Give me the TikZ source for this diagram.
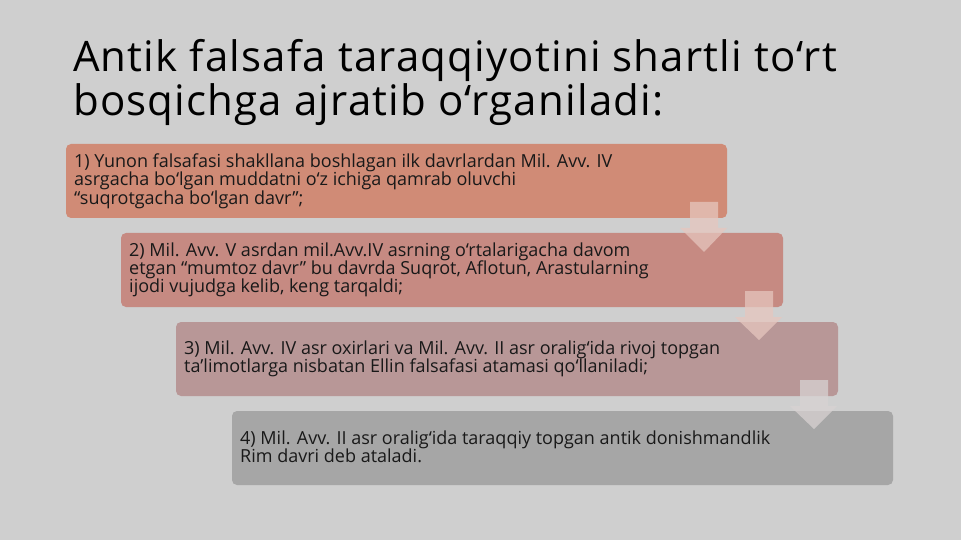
\documentclass[tikz,border=0pt]{standalone}
\usepackage{fontspec}
\setmainfont{Open Sans}
\begin{document}
\begin{tikzpicture}[x=1pt,y=-1pt,
  stagebox/.style={rounded corners=5pt, draw=none},
  stagetext/.style={anchor=west, inner sep=0pt, align=left, font=\fontsize{18}{18.3}\selectfont, text=black!90},
  downarrow/.style={fill=#1, draw=none, fill opacity=0.75}]
\useasboundingbox (0,0) rectangle (961,540);
\fill[gray!38] (0,0) rectangle (961,540);
\definecolor{cA}{HTML}{D08B76}
\definecolor{cB}{HTML}{C68A82}
\definecolor{cC}{HTML}{B89797}
\definecolor{cD}{HTML}{A6A6A6}
\definecolor{cArr}{HTML}{E6C6BE}
\definecolor{cArrG}{HTML}{D8D2D2}
\node[anchor=north west, inner sep=0pt, align=left, font=\fontsize{42}{44}\selectfont\addfontfeature{LetterSpace=2.8}] (title) at (73,39)
  {Antik falsafa taraqqiyotini shartli to‘rt\\bosqichga ajratib o‘rganiladi:};
\fill[cA, stagebox] (66,144) rectangle (727,218);
\fill[cB, stagebox] (121,233) rectangle (783,307);
\fill[cC, stagebox] (176,322) rectangle (838,396);
\fill[cD, stagebox] (232,411) rectangle (893,485);
\node[stagetext] (t1) at (74,181) {1) Yunon falsafasi shakllana boshlagan ilk davrlardan Mil. Avv. IV\\asrgacha bo‘lgan muddatni o‘z ichiga qamrab oluvchi\\“suqrotgacha bo‘lgan davr”;};
\node[stagetext] (t2) at (129,270) {2) Mil. Avv. V asrdan mil.Avv.IV asrning o‘rtalarigacha davom\\etgan “mumtoz davr” bu davrda Suqrot, Aflotun, Arastularning\\ijodi vujudga kelib, keng tarqaldi;};
\node[stagetext] (t3) at (184,359) {3) Mil. Avv. IV asr oxirlari va Mil. Avv. II asr oralig‘ida rivoj topgan\\ta’limotlarga nisbatan Ellin falsafasi atamasi qo‘llaniladi;};
\node[stagetext] (t4) at (240,447) {4) Mil. Avv. II asr oralig‘ida taraqqiy topgan antik donishmandlik\\Rim davri deb ataladi.};
\fill[downarrow=cArr] (690,202) -- (718,202) -- (718,228) -- (727,228) -- (704,252) -- (680,228) -- (690,228) -- cycle;
\fill[downarrow=cArr] (745,291) -- (773,291) -- (773,317) -- (782,317) -- (759,340) -- (735,317) -- (745,317) -- cycle;
\fill[downarrow=cArrG] (800,380) -- (828,380) -- (828,406) -- (837,406) -- (814,429) -- (790,406) -- (800,406) -- cycle;
\end{tikzpicture}
\end{document}
